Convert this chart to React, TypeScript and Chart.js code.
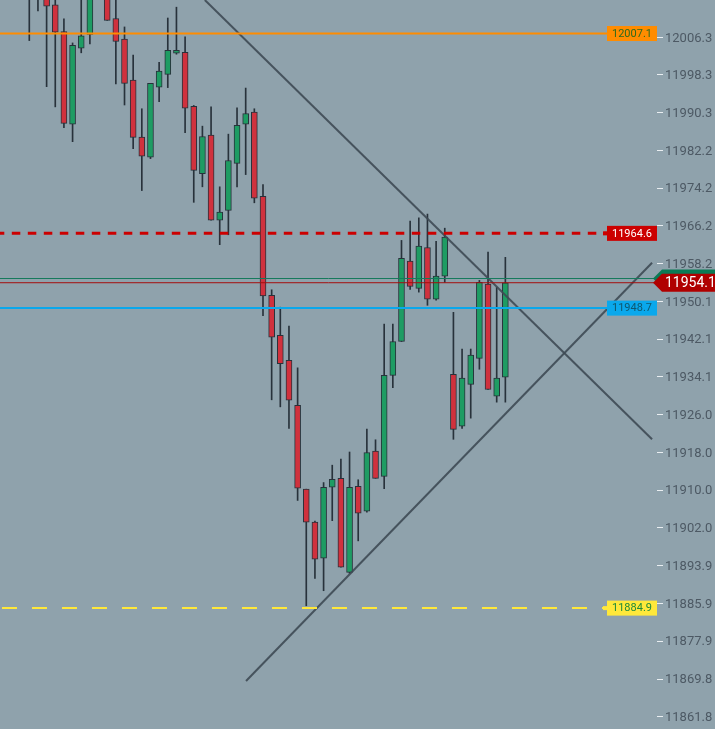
import React, { useEffect, useRef } from 'react';
import { Chart, registerables } from 'chart.js';

Chart.register(...registerables);

// ---- data ----
const opens = [
  12018.0, 12020.0, 12019.0, 12013.2, 12007.5, 11987.8, 12004.0, 12006.9, 12020.0, 12022.0,
  12010.3, 12005.9, 11997.2, 11985.1, 11980.8, 11995.7, 11998.4, 12002.9, 12003.1, 11991.6,
  11977.3, 11985.5, 11967.4, 11969.5, 11979.5, 11987.8, 11990.4, 11972.5, 11951.4, 11942.9,
  11937.6, 11928.0, 11910.2, 11903.2, 11895.5, 11910.6, 11912.5, 11892.5, 11910.8, 11905.5,
  11918.3, 11912.9, 11934.4, 11941.6, 11958.7, 11952.9, 11961.6, 11950.6, 11955.5, 11934.6,
  11923.6, 11932.5, 11938.0, 11953.8, 11930.0, 11934.0,
];
const highs = [
  12022.0, 12024.0, 12022.0, 12016.0, 12010.2, 12005.1, 12015.0, 12018.0, 12026.0, 12024.0,
  12015.0, 12008.5, 12002.5, 11991.1, 11996.5, 12001.0, 12010.4, 12012.7, 12006.4, 11991.8,
  11987.4, 11991.5, 11974.5, 11985.7, 11991.3, 11995.5, 11991.1, 11975.0, 11952.6, 11948.9,
  11944.9, 11936.0, 11910.2, 11903.4, 11911.6, 11915.3, 11916.6, 11918.1, 11912.2, 11923.0,
  11920.7, 11945.3, 11945.3, 11963.1, 11967.2, 11967.9, 11968.7, 11962.9, 11965.7, 11947.8,
  11940.0, 11940.0, 11954.6, 11960.6, 11953.1, 11959.5,
];
const lows = [
  12005.6, 12011.9, 11995.8, 11991.5, 11987.1, 11984.1, 12003.0, 12004.9, 12016.0, 12009.9,
  11996.4, 11991.9, 11982.6, 11973.7, 11980.5, 11992.6, 11995.6, 12002.7, 11986.0, 11971.2,
  11974.5, 11967.4, 11962.2, 11964.3, 11974.5, 11977.1, 11971.1, 11947.1, 11929.2, 11927.7,
  11923.1, 11907.8, 11885.4, 11891.2, 11888.6, 11903.5, 11893.6, 11892.3, 11899.2, 11905.3,
  11912.5, 11910.3, 11931.8, 11941.6, 11952.7, 11952.1, 11949.3, 11950.4, 11954.2, 11920.8,
  11923.1, 11925.3, 11935.7, 11931.4, 11928.7, 11928.7,
];
const closes = [
  12016.0, 12017.0, 12012.9, 12007.4, 11988.0, 12004.6, 12006.6, 12016.0, 12024.0, 12009.9,
  12005.4, 11996.5, 11985.0, 11981.0, 11996.5, 11999.1, 12003.5, 12003.5, 11991.2, 11978.0,
  11985.2, 11967.4, 11969.1, 11980.1, 11987.6, 11990.1, 11972.1, 11951.3, 11942.5, 11936.9,
  11929.1, 11910.4, 11903.2, 11895.3, 11910.6, 11912.3, 11893.6, 11910.6, 11905.1, 11918.0,
  11912.5, 11934.4, 11941.6, 11959.3, 11953.3, 11961.9, 11950.6, 11955.5, 11963.8, 11922.9,
  11933.8, 11938.7, 11954.2, 11931.4, 11933.8, 11954.1,
];

const tickValues = [
  12006.3, 11998.3, 11990.3, 11982.2, 11974.2, 11966.2, 11958.2, 11950.1, 11942.1, 11934.1,
  11926.0, 11918.0, 11910.0, 11902.0, 11893.9, 11885.9, 11877.9, 11869.8, 11861.8,
];

const levelPrices = [12007.1, 11964.6, 11948.7, 11884.9];
const bidPrice = 11955.0;
const lastPrice = 11954.1;

const descLineX = [20.28, 71.95];
const descLineY = [12014.23, 11920.8];
const ascLineX = [25.04, 71.95];
const ascLineY = [11869.4, 11958.36];

const xMin = -3.385;
const xMax = 72.52;
const yMin = 11859.19;
const yMax = 12014.23;

// ---- styles ----
const BG = '#8fa2ac';
const UP = '#1e9c63';
const DOWN = '#d0313d';
const EDGE = '#28323b';
const TREND = 'rgba(62,74,84,0.9)';

const levelStyles = [
  { line: '#ff8c00', width: 2, dash: [] as number[], offset: 0, box: '#ff8c00', text: '#2f6a1c', notch: false },
  { line: '#cc0000', width: 3, dash: [8.5, 7.5], offset: 4.2, box: '#cc0000', text: '#ffffff', notch: true },
  { line: '#0aa8ec', width: 2, dash: [] as number[], offset: 0, box: '#0aa8ec', text: '#0f5870', notch: false },
  { line: '#ffe83a', width: 2, dash: [15, 15], offset: 28, box: '#ffe83a', text: '#1f8a3a', notch: true },
];

const labelPlugin = {
  id: 'levelLabels',
  afterDatasetsDraw(chart: any) {
    const { ctx, chartArea, scales } = chart;
    const y = scales.y;
    ctx.save();
    levelPrices.forEach((p, k) => {
      const st = levelStyles[k];
      const py = y.getPixelForValue(p);
      const bw = 50;
      const bh = 15;
      const bx = chartArea.right - bw;
      if (st.notch) {
        ctx.fillStyle = st.box;
        ctx.fillRect(bx - 4, py - 2, 4, 4);
      }
      ctx.fillStyle = st.box;
      ctx.fillRect(bx, py - bh / 2, bw, bh);
      ctx.fillStyle = st.text;
      ctx.font = '11px Roboto';
      ctx.textAlign = 'center';
      ctx.textBaseline = 'middle';
      ctx.fillText(p.toFixed(1), bx + bw / 2, py + 0.5);
    });
    ctx.restore();
  },
  afterDraw(chart: any) {
    const { ctx, chartArea, scales, width } = chart;
    const y = scales.y;
    const tip = chartArea.right - 4;
    const h = 18;
    const tag = (py: number, color: string) => {
      ctx.beginPath();
      ctx.moveTo(tip, py);
      ctx.lineTo(tip + 9, py - h / 2);
      ctx.lineTo(width, py - h / 2);
      ctx.lineTo(width, py + h / 2);
      ctx.lineTo(tip + 9, py + h / 2);
      ctx.closePath();
      ctx.fillStyle = color;
      ctx.fill();
    };
    ctx.save();
    const pb = y.getPixelForValue(bidPrice);
    const pl = y.getPixelForValue(lastPrice);
    tag(pb, '#0b7a55');
    tag(pl, '#b00000');
    ctx.fillStyle = '#ffffff';
    ctx.font = '14px Roboto';
    ctx.textAlign = 'left';
    ctx.textBaseline = 'middle';
    ctx.fillText(lastPrice.toFixed(1), chartArea.right + 8, pl + 0.5);
    ctx.restore();
  },
};

export default function App() {
  const ref = useRef<HTMLCanvasElement | null>(null);

  useEffect(() => {
    if (!ref.current) return;
    Chart.defaults.font.family = 'Roboto';

    const idx = opens.map((_, i) => i);
    const bodyColors = opens.map((o, i) => (closes[i] >= o ? UP : DOWN));

    const levelDatasets = levelPrices.map((p, k) => ({
      type: 'line' as const,
      data: [
        { x: xMin, y: p },
        { x: xMax, y: p },
      ],
      borderColor: levelStyles[k].line,
      borderWidth: levelStyles[k].width,
      borderDash: levelStyles[k].dash,
      borderDashOffset: levelStyles[k].offset,
      pointRadius: 0,
      order: 3,
    }));

    const chart = new Chart(ref.current, {
      type: 'bar',
      data: {
        datasets: [
          {
            type: 'bar',
            data: idx.map((i) => ({ x: i, y: [lows[i], highs[i]] })) as any,
            backgroundColor: EDGE,
            barThickness: 1,
            grouped: false,
            order: 10,
          },
          {
            type: 'bar',
            data: idx.map((i) => ({ x: i, y: [opens[i], closes[i]] })) as any,
            backgroundColor: bodyColors,
            borderColor: EDGE,
            borderWidth: 1,
            borderSkipped: false,
            barThickness: 6,
            grouped: false,
            order: 9,
          },
          {
            type: 'line',
            data: [
              { x: descLineX[0], y: descLineY[0] },
              { x: descLineX[1], y: descLineY[1] },
            ],
            borderColor: TREND,
            borderWidth: 2,
            pointRadius: 0,
            order: 5,
          },
          {
            type: 'line',
            data: [
              { x: ascLineX[0], y: ascLineY[0] },
              { x: ascLineX[1], y: ascLineY[1] },
            ],
            borderColor: TREND,
            borderWidth: 2,
            pointRadius: 0,
            order: 5,
          },
          ...levelDatasets,
          {
            type: 'line',
            data: [
              { x: xMin, y: bidPrice },
              { x: xMax, y: bidPrice },
            ],
            borderColor: '#167a5c',
            borderWidth: 1,
            pointRadius: 0,
            order: 2,
          },
          {
            type: 'line',
            data: [
              { x: xMin, y: lastPrice },
              { x: xMax, y: lastPrice },
            ],
            borderColor: '#a50e0e',
            borderWidth: 1,
            pointRadius: 0,
            order: 2,
          },
        ] as any,
      },
      options: {
        animation: false,
        responsive: false,
        maintainAspectRatio: false,
        layout: { padding: 0 },
        plugins: {
          legend: { display: false },
          tooltip: { enabled: false },
          title: { display: false },
        },
        scales: {
          x: {
            type: 'linear',
            min: xMin,
            max: xMax,
            offset: false,
            display: false,
            grid: { offset: false },
          },
          y: {
            type: 'linear',
            position: 'right',
            min: yMin,
            max: yMax,
            bounds: 'data',
            border: { display: false },
            grid: {
              drawOnChartArea: false,
              drawTicks: true,
              tickLength: 6,
              tickColor: '#e9eef1',
              tickWidth: 1,
            },
            ticks: {
              autoSkip: false,
              padding: 2,
              labelOffset: 1,
              color: '#4d5964',
              font: { size: 13, family: 'Roboto' },
              callback: (v: any) => Number(v).toFixed(1),
            },
            afterBuildTicks: (scale: any) => {
              scale.ticks = tickValues.map((v) => ({ value: v }));
            },
            afterFit: (scale: any) => {
              scale.width = 58;
              scale.paddingTop = 0;
              scale.paddingBottom = 0;
            },
          },
        },
      } as any,
      plugins: [labelPlugin],
    });

    return () => chart.destroy();
  }, []);

  return (
    <div
      style={{
        position: 'fixed',
        left: 0,
        top: 0,
        width: 715,
        height: 729,
        background: BG,
        overflow: 'hidden',
      }}
    >
      <canvas ref={ref} width={715} height={729} style={{ display: 'block' }} />
    </div>
  );
}
